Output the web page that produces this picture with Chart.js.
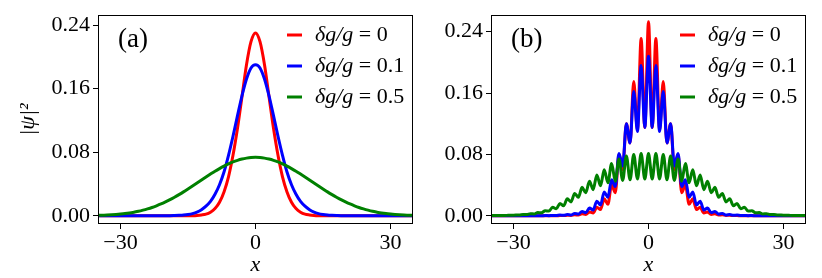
<!DOCTYPE html>
<html>
<head>
<meta charset="utf-8">
<script src="https://cdn.jsdelivr.net/npm/chart.js@4.4.0/dist/chart.umd.min.js"></script>
<style>
  body{margin:0;background:#fff;}
  #pannelloA{position:absolute;left:0;top:0;width:420px;height:278px;}
  #pannelloB{position:absolute;left:420px;top:0;width:402px;height:278px;}
</style>
</head>
<body>
<div id="pannelloA"><canvas id="graficoA"></canvas></div>
<div id="pannelloB"><canvas id="graficoB"></canvas></div>
<script>
//valori: le curve sono simmetriche, quindi si tiene solo la meta' x>=0
var valoriDg = ['0', '0.1', '0.5'];
var colori = ['#ff0000', '#0000ff', '#008000'];
var tickX = [-30, 0, 30];
var tickY = [0, 0.08, 0.16, 0.24];

//pannello (a)
var xMezzoA = [0,1,2,3,4,5,6,7,8,9,10,11,12,13,14,15,16,17,18,19,20,21,22,23,24,25,26,27,28,29,30,31,32,33,34,35];
var rossoA = [0.230,0.219,0.190,0.150,0.110,0.076,0.049,0.030,0.017,0.009,0.0045,0.002,0.001,0.0004,0.0001,
    0,0,0,0,0,0,0,0,0,0,0,0,0,0,0,0,0,0,0,0,0];
var bluA = [0.190,0.186,0.172,0.151,0.126,0.100,0.076,0.055,0.039,0.027,0.018,0.012,0.0075,0.0045,0.0027,0.0016,0.0009,0.0005,0.0002,
    0,0,0,0,0,0,0,0,0,0,0,0,0,0,0,0,0];
var verdeA = [0.0735,0.0733,0.0725,0.0713,0.0697,0.0677,0.0652,0.0624,0.0593,0.0560,0.0524,0.0487,0.0449,0.0411,0.0373,0.0336,
    0.0300,0.0266,0.0233,0.0202,0.0174,0.0148,0.0125,0.0104,0.0086,0.0070,0.0056,0.0045,0.0035,0.0027,0.0021,0.0016,0.0012,0.0009,0.0007,0.0005];

//pannello (b): punti su massimi e minimi delle oscillazioni
var xMezzoB = [0,0.82,1.64,2.46,3.28,4.1,4.92,5.74,6.56,7.38,8.2,9.02,9.84,10.66,11.48,12.3,13.12,13.94,14.76,15.58,16.4,17.22,
    18.04,18.86,19.68,20.5,21.32,22.14,22.96,23.78,24.6,25.42,26.24,27.06,27.88,28.7,29.52,30.34,31.16,31.98,32.8,33.62,34.44,35];
var rossoB = [0.253,0.115,0.231,0.112,0.175,0.095,0.120,0.060,0.080,0.030,0.040,0.015,0.022,0.008,0.011,0.0035,0.005,0.0015,
    0.0025,0.0008,0.0012,0.0004,0.0005,0.0002,0.0002,0,0,0,0,0,0,0,0,0,0,0,0,0,0,0,0,0,0,0];
var bluB = [0.208,0.115,0.196,0.110,0.162,0.095,0.120,0.065,0.081,0.038,0.047,0.024,0.031,0.014,0.019,0.0075,0.010,0.004,
    0.0055,0.002,0.003,0.001,0.0015,0.0005,0.0008,0.0003,0.0004,0.0001,0.0002,0,0,0,0,0,0,0,0,0,0,0,0,0,0,0];
var verdeB = [0.081,0.048,0.081,0.048,0.080,0.047,0.078,0.046,0.074,0.045,0.068,0.043,0.060,0.039,0.053,0.034,0.045,0.030,
    0.037,0.024,0.029,0.018,0.022,0.013,0.016,0.009,0.011,0.006,0.0065,0.0038,0.0042,0.0024,0.0026,0.0015,0.0016,0.0009,
    0.001,0.0005,0.0006,0.0003,0.0004,0.0002,0.0002,0.0001];

var font = '"Liberation Serif", "DejaVu Serif", serif';

//ricostruisce la curva intera da -35 a 35
function specchia(xm, ym){
    var punti = [];
    for(var i = xm.length - 1; i > 0; i--)
        punti.push({x: -xm[i], y: ym[i]});
    for(var i = 0; i < xm.length; i++)
        punti.push({x: xm[i], y: ym[i]});
    return punti;
}

//cornice del grafico, legenda e lettera del pannello
var decorazioni = {
    id: 'decorazioni',
    afterDraw: function(chart, args, opts){
        var ctx = chart.ctx, a = chart.chartArea;
        ctx.save();
        ctx.strokeStyle = '#000';
        ctx.lineWidth = 1;
        ctx.strokeRect(a.left + 0.5, a.top + 0.5, a.right - a.left - 1, a.bottom - a.top - 1);

        ctx.textBaseline = 'middle';
        ctx.textAlign = 'left';
        ctx.fillStyle = '#000';
        ctx.font = '27px ' + font;
        ctx.fillText(opts.lettera, a.left + 20, a.top + 25);

        var righe = [20, 51, 82];
        for(var i = 0; i < valoriDg.length; i++){
            var y = a.top + righe[i];
            ctx.strokeStyle = colori[i];
            ctx.lineWidth = 3;
            ctx.beginPath();
            ctx.moveTo(a.right - 126, y);
            ctx.lineTo(a.right - 111, y);
            ctx.stroke();
            ctx.font = 'italic 22px ' + font;
            ctx.fillText('\u03b4g/g', a.right - 98, y);
            var w = ctx.measureText('\u03b4g/g').width;
            ctx.font = '22px ' + font;
            ctx.fillText(' = ' + valoriDg[i], a.right - 98 + w, y);
        }
        ctx.restore();
    }
};

function creaGrafico(idCanvas, curve, yMin, yMax, larghezzaY, destra, lettera, titoloY){
    var ctx = document.getElementById(idCanvas).getContext('2d');
    var nomi = ['\u03b4g/g = 0', '\u03b4g/g = 0.1', '\u03b4g/g = 0.5'];
    var datasets = [];
    for(var i = 0; i < curve.length; i++){
        datasets.push({
            label: nomi[i],
            data: curve[i],
            borderColor: colori[i],
            borderWidth: 3,
            pointRadius: 0,
            fill: false,
            cubicInterpolationMode: 'monotone',
            order: curve.length - i   //il verde sta sopra, come nell'originale
        });
    }
    new Chart(ctx, {
        type: 'line',
        data: {datasets: datasets},
        plugins: [decorazioni],
        options: {
            responsive: true,
            maintainAspectRatio: false,
            animation: false,
            layout: {padding: {left: 0, right: destra, top: 15, bottom: 0}},
            plugins: {
                legend: {display: false},
                tooltip: {enabled: false},
                decorazioni: {lettera: lettera}
            },
            scales: {
                x: {
                    type: 'linear', min: -35, max: 35,
                    afterBuildTicks: function(s){ s.ticks = tickX.map(function(v){ return {value: v}; }); },
                    afterFit: function(s){ s.height = 54; },
                    border: {display: false},
                    grid: {drawOnChartArea: false, drawTicks: true, tickLength: 5, tickColor: '#000', tickWidth: 1},
                    ticks: {
                        color: '#000', padding: 3, maxRotation: 0,
                        font: {family: font, size: 22, lineHeight: 1},
                        callback: function(v){ return v < 0 ? '\u2212' + Math.abs(v) : String(v); }
                    },
                    title: {display: true, text: 'x', color: '#000',
                        font: {family: font, size: 22, style: 'italic', lineHeight: 1},
                        padding: {top: 0, bottom: 2}}
                },
                y: {
                    min: yMin, max: yMax,
                    afterBuildTicks: function(s){ s.ticks = tickY.map(function(v){ return {value: v}; }); },
                    afterFit: function(s){ s.width = larghezzaY; },
                    border: {display: false},
                    grid: {drawOnChartArea: false, drawTicks: true, tickLength: 5, tickColor: '#000', tickWidth: 1},
                    ticks: {
                        color: '#000', padding: 3,
                        font: {family: font, size: 22, lineHeight: 1},
                        callback: function(v){ return Number(v).toFixed(2); }
                    },
                    title: {display: titoloY != '', text: titoloY, color: '#000',
                        font: {family: font, size: 22, style: 'italic'},
                        padding: {top: 15, bottom: 0}}
                }
            }
        }
    });
}

creaGrafico('graficoA',
    [specchia(xMezzoA, rossoA), specchia(xMezzoA, bluA), specchia(xMezzoA, verdeA)],
    -0.0104, 0.2526, 98, 7, '(a)', '|\u03c8|\u00b2');
creaGrafico('graficoB',
    [specchia(xMezzoB, rossoB), specchia(xMezzoB, bluB), specchia(xMezzoB, verdeB)],
    -0.0108, 0.2618, 71, 16, '(b)', '');
</script>
</body>
</html>
